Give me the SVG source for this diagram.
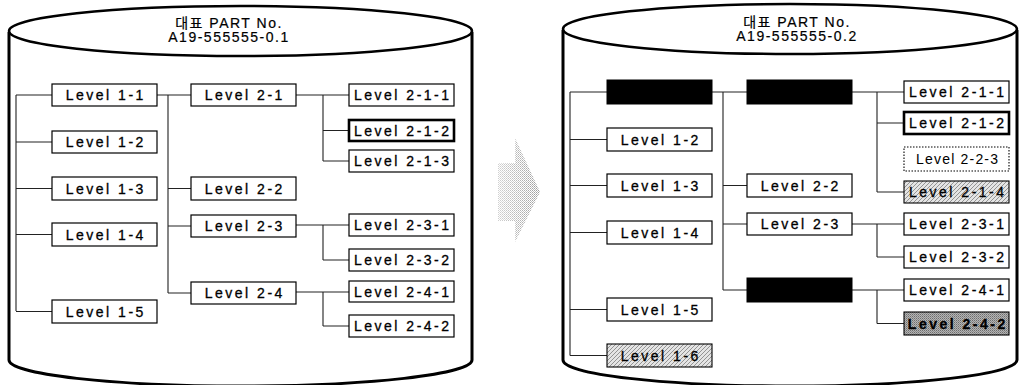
<svg xmlns="http://www.w3.org/2000/svg" width="1019" height="385" viewBox="0 0 1019 385">
  <style>
    .cyl { fill: none; stroke: #000; stroke-width: 3; }
    .top { fill: #fff; stroke: #000; stroke-width: 2.5; }
    .box { fill: #fff; stroke: #000; stroke-width: 1.2; }
    .thick { fill: #fff; stroke: #000; stroke-width: 2.6; }
    .dotted { fill: #fff; stroke: #000; stroke-width: 1.1; stroke-dasharray: 1.5 1.5; }
    .solid { fill: #000; stroke: #000; stroke-width: 1; }
    .hatch { fill: url(#hatch); stroke: #000; stroke-width: 1.1; }
    .dark { fill: url(#dots); stroke: #000; stroke-width: 1.1; }
    .lbl { font-family: "Liberation Sans", Arial, sans-serif; font-size: 14px; letter-spacing: 2.5px; fill: #000; stroke: #000; stroke-width: 0.3; text-anchor: middle; }
    .plain { letter-spacing: 1.2px; stroke-width: 0; }
    .bold { font-weight: bold; }
    .head { font-family: "Liberation Sans", "Noto Sans CJK KR", sans-serif; font-size: 14px; letter-spacing: 1.5px; fill: #000; stroke: #000; stroke-width: 0.2; text-anchor: middle; }
    .wire { fill: none; stroke: #222; stroke-width: 1.1; }
  </style>
  <defs>
    <pattern id="hatch" width="4" height="4" patternUnits="userSpaceOnUse">
      <rect width="4" height="4" fill="#e4e4e4"/>
      <path d="M-1,1 L1,-1 M0,4 L4,0 M3,5 L5,3" stroke="#8a8a8a" stroke-width="0.9"/>
    </pattern>
    <pattern id="dots" width="2" height="2" patternUnits="userSpaceOnUse">
      <rect width="2" height="2" fill="#b4b4b4"/>
      <rect width="1" height="1" fill="#6e6e6e"/>
      <rect x="1" y="1" width="1" height="1" fill="#8c8c8c"/>
    </pattern>
    <pattern id="dither" width="2" height="2" patternUnits="userSpaceOnUse">
      <rect width="2" height="2" fill="#fff"/>
      <rect width="1" height="1" fill="#9a9a9a"/>
      <rect x="1" y="1" width="1" height="1" fill="#b8b8b8"/>
    </pattern>
    <linearGradient id="fade" x1="0" y1="0" x2="1" y2="0">
      <stop offset="0" stop-color="#fff" stop-opacity="0.55"/>
      <stop offset="1" stop-color="#fff" stop-opacity="0"/>
    </linearGradient>
  </defs>

  <!-- left database cylinder -->
  <g id="db-left">
    <path class="cyl" d="M9,32 L9,360 A231.5 26 0 0 0 472,360 L472,32"/>
    <ellipse class="top" cx="240.5" cy="31" rx="231.5" ry="25"/>
    <text class="head" x="229" y="28">대표 PART No.</text>
    <text class="head" x="229" y="42">A19-555555-0.1</text>
  </g>

  <!-- right database cylinder -->
  <g id="db-right">
    <path class="cyl" d="M563,30 L563,360 A227 26 0 0 0 1017,360 L1017,30"/>
    <ellipse class="top" cx="790" cy="29" rx="227" ry="25"/>
    <text class="head" x="797" y="27">대표 PART No.</text>
    <text class="head" x="797" y="41">A19-555555-0.2</text>
  </g>

  <!-- transition arrow -->
  <g id="arrow">
    <path d="M498,163 L515,163 L515,138 L540,192 L515,242 L515,221 L498,221 Z" fill="url(#dither)"/>
    <path d="M498,163 L515,163 L515,138 L540,192 L515,242 L515,221 L498,221 Z" fill="url(#fade)"/>
  </g>

  <!-- connectors -->
  <g id="connectors">
    <!-- left tree -->
    <path class="wire" d="M16,95 V311 M16,95 H52 M16,142 H52 M16,188.5 H52 M16,234.5 H52 M16,311.5 H52"/>
    <path class="wire" d="M157,95 H191 M168,95 V293 M168,188.5 H191 M168,226 H191 M168,293 H191"/>
    <path class="wire" d="M296,95 H349 M323,95 V161 M323,130.5 H349 M323,161 H349"/>
    <path class="wire" d="M296,225 H349 M323,225 V260 M323,260 H349"/>
    <path class="wire" d="M296,292 H349 M323,292 V326 M323,326 H349"/>
    <!-- right tree -->
    <path class="wire" d="M570,92 V355.5 M570,92 H607 M570,139.5 H607 M570,185.5 H607 M570,232.5 H607 M570,309.5 H607 M570,355.5 H607"/>
    <path class="wire" d="M712,92 H747 M723,92 V290 M723,185.5 H747 M723,224 H747 M723,290 H747"/>
    <path class="wire" d="M852,92 H904 M877,92 V192 M877,123 H904 M877,192 H904"/>
    <path class="wire" d="M852,224 H904 M877,224 V257 M877,257 H904"/>
    <path class="wire" d="M852,290 H904 M877,290 V323.5 M877,323.5 H904"/>
  </g>

  <!-- left tree nodes -->
  <g id="L-1-1"><rect class="box" x="52" y="84" width="105" height="22"/><text class="lbl" x="105.8" y="100">Level 1-1</text></g>
  <g id="L-1-2"><rect class="box" x="52" y="131" width="105" height="22"/><text class="lbl" x="105.8" y="147">Level 1-2</text></g>
  <g id="L-1-3"><rect class="box" x="52" y="177" width="105" height="23"/><text class="lbl" x="105.8" y="193.5">Level 1-3</text></g>
  <g id="L-1-4"><rect class="box" x="52" y="223" width="105" height="23"/><text class="lbl" x="105.8" y="239.5">Level 1-4</text></g>
  <g id="L-1-5"><rect class="box" x="52" y="300" width="105" height="23"/><text class="lbl" x="105.8" y="316.5">Level 1-5</text></g>

  <g id="L-2-1"><rect class="box" x="191" y="84" width="105" height="22"/><text class="lbl" x="244.8" y="100">Level 2-1</text></g>
  <g id="L-2-2"><rect class="box" x="191" y="177" width="105" height="23"/><text class="lbl" x="244.8" y="193.5">Level 2-2</text></g>
  <g id="L-2-3"><rect class="box" x="191" y="215" width="105" height="22"/><text class="lbl" x="244.8" y="231">Level 2-3</text></g>
  <g id="L-2-4"><rect class="box" x="191" y="282" width="105" height="22"/><text class="lbl" x="244.8" y="298">Level 2-4</text></g>

  <g id="L-2-1-1"><rect class="box" x="349" y="84" width="105" height="22"/><text class="lbl" x="402.8" y="100">Level 2-1-1</text></g>
  <g id="L-2-1-2"><rect class="thick" x="349" y="120" width="105" height="21"/><text class="lbl" x="402.8" y="135.5">Level 2-1-2</text></g>
  <g id="L-2-1-3"><rect class="box" x="349" y="150" width="105" height="22"/><text class="lbl" x="402.8" y="166">Level 2-1-3</text></g>
  <g id="L-2-3-1"><rect class="box" x="349" y="214" width="105" height="22"/><text class="lbl" x="402.8" y="230">Level 2-3-1</text></g>
  <g id="L-2-3-2"><rect class="box" x="349" y="249" width="105" height="22"/><text class="lbl" x="402.8" y="265">Level 2-3-2</text></g>
  <g id="L-2-4-1"><rect class="box" x="349" y="281" width="105" height="21"/><text class="lbl" x="402.8" y="296.5">Level 2-4-1</text></g>
  <g id="L-2-4-2"><rect class="box" x="349" y="315" width="105" height="22"/><text class="lbl" x="402.8" y="331">Level 2-4-2</text></g>

  <!-- right tree nodes -->
  <g id="R-1-1"><rect class="solid" x="607" y="80" width="105" height="24"/></g>
  <g id="R-1-2"><rect class="box" x="607" y="128" width="105" height="23"/><text class="lbl" x="660.8" y="144.5">Level 1-2</text></g>
  <g id="R-1-3"><rect class="box" x="607" y="174" width="105" height="23"/><text class="lbl" x="660.8" y="190.5">Level 1-3</text></g>
  <g id="R-1-4"><rect class="box" x="607" y="221" width="105" height="23"/><text class="lbl" x="660.8" y="237.5">Level 1-4</text></g>
  <g id="R-1-5"><rect class="box" x="607" y="298" width="105" height="23"/><text class="lbl" x="660.8" y="314.5">Level 1-5</text></g>
  <g id="R-1-6"><rect class="hatch" x="607" y="344" width="105" height="23"/><text class="lbl" x="660.8" y="360.5">Level 1-6</text></g>

  <g id="R-2-1"><rect class="solid" x="747" y="80" width="105" height="24"/></g>
  <g id="R-2-2"><rect class="box" x="747" y="174" width="105" height="23"/><text class="lbl" x="800.8" y="190.5">Level 2-2</text></g>
  <g id="R-2-3"><rect class="box" x="747" y="213" width="105" height="22"/><text class="lbl" x="800.8" y="229">Level 2-3</text></g>
  <g id="R-2-4"><rect class="solid" x="747" y="278" width="105" height="24"/></g>

  <g id="R-2-1-1"><rect class="box" x="904" y="81" width="105" height="22"/><text class="lbl" x="957.8" y="97">Level 2-1-1</text></g>
  <g id="R-2-1-2"><rect class="thick" x="904" y="112" width="105" height="22"/><text class="lbl" x="957.8" y="128">Level 2-1-2</text></g>
  <g id="R-2-2-3"><rect class="dotted" x="904" y="147" width="105" height="24"/><text class="lbl plain" x="957.6" y="164">Level 2-2-3</text></g>
  <g id="R-2-1-4"><rect class="hatch" x="904" y="181" width="105" height="22"/><text class="lbl" x="957.8" y="197">Level 2-1-4</text></g>
  <g id="R-2-3-1"><rect class="box" x="904" y="213" width="105" height="22"/><text class="lbl" x="957.8" y="229">Level 2-3-1</text></g>
  <g id="R-2-3-2"><rect class="box" x="904" y="246" width="105" height="22"/><text class="lbl" x="957.8" y="262">Level 2-3-2</text></g>
  <g id="R-2-4-1"><rect class="box" x="904" y="279" width="105" height="22"/><text class="lbl" x="957.8" y="295">Level 2-4-1</text></g>
  <g id="R-2-4-2"><rect class="dark" x="904" y="312" width="105" height="23"/><text class="lbl bold" x="957.8" y="328.5">Level 2-4-2</text></g>
</svg>
